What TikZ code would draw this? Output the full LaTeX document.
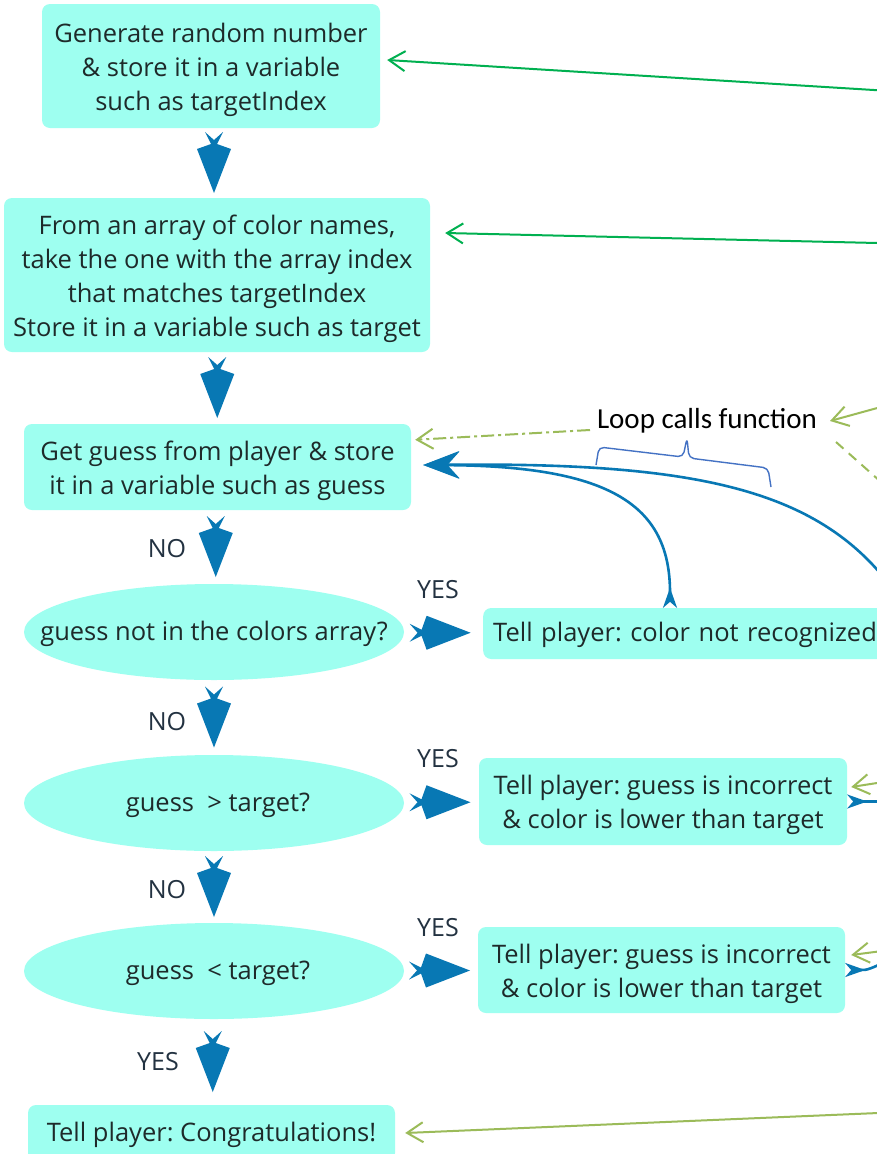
\documentclass[tikz,border=0pt]{standalone}
\usepackage{fontspec}
\setmainfont{Open Sans}
\newfontfamily\calib{Carlito}
\usetikzlibrary{shapes.geometric,arrows.meta,calc,decorations.pathreplacing}
\definecolor{boxfill}{RGB}{158,255,240}
\definecolor{flowblue}{RGB}{8,120,180}
\definecolor{txt}{RGB}{30,42,42}
\definecolor{lbl}{RGB}{35,50,65}
\definecolor{dgreen}{RGB}{0,176,80}
\definecolor{lgreen}{RGB}{155,187,89}
\definecolor{bracec}{RGB}{68,114,196}
\frenchspacing
\newcommand\txtdrop{\rule{0pt}{27pt}}
\newcommand\txtdropsm{\rule{0pt}{23pt}}
\tikzset{
  dnarrow/.pic={\fill[flowblue] (-9,-31) -- (0,-23) -- (9,-31) -- (3,-19) -- (17,-14) -- (0,30) -- (-17,-14) -- (-3,-19) -- cycle;},
  mainfont/.style={font=\fontsize{25.5}{34}\selectfont, text=txt},
  flowbox/.style={mainfont, fill=boxfill, rounded corners=8pt, align=center, inner sep=0pt},
  decision/.style={mainfont, ellipse, fill=boxfill, minimum width=380pt, minimum height=96pt, inner sep=0pt},
  lab/.style={font=\fontsize{25}{30}\selectfont, text=lbl},
  loopline/.style={flowblue, line width=2.6pt},
  fletch/.tip={Stealth[reversed,length=20pt,width=14pt,inset=6pt]},
  bighead/.tip={Stealth[length=36pt,width=27pt,inset=12pt]},
  barb/.tip={Straight Barb[length=16pt,width=20pt,line width=2pt]},
  dgreenline/.style={dgreen, line width=2pt, -{barb}},
  lgreenline/.style={lgreen, line width=2pt, -{barb}},
}
\begin{document}
\begin{tikzpicture}[x=1pt,y=-1pt]
\useasboundingbox (0,0) rectangle (877,1154);
\fill[white] (0,0) rectangle (877,1154);
\clip (0,0) rectangle (877,1154);

% main column
\node[flowbox, minimum width=338pt, minimum height=124pt] (gen) at (211,66)
  {\txtdrop Generate random number\\ \& store it in a variable\\ such as targetIndex};
\node[flowbox, minimum width=426pt, minimum height=154pt] (pick) at (217,275)
  {\txtdrop From an array of color names,\\ take the one with the array index\\ that matches targetIndex\\ Store it in a variable such as target};
\node[flowbox, minimum width=387pt, minimum height=86pt] (get) at (217.5,467)
  {\txtdrop Get guess from player \& store\\ it in a variable such as guess};
\node[decision] (d1) at (214,632) {\txtdropsm\makebox[0pt]{guess not in the colors array?}};
\node[decision] (d2) at (214,803) {\txtdropsm\makebox[0pt]{\hspace{8pt}guess\ \ > target?}};
\node[decision] (d3) at (214,971) {\txtdropsm\makebox[0pt]{\hspace{8pt}guess\ \ < target?}};
\node[flowbox, minimum width=367pt, minimum height=56pt] (win) at (211.5,1133) {\txtdropsm Tell player: Congratulations!};

% result boxes
\node[flowbox, anchor=west, minimum height=51pt, inner xsep=10pt, text width=410pt, align=left] (r1) at (483,633.5) {\txtdropsm Tell player: color not recognized};
\node[flowbox, minimum width=368pt, minimum height=87pt] (r2) at (663,801.5)
  {\txtdrop Tell player: guess is incorrect\\ \& color is lower than target};
\node[flowbox, minimum width=367pt, minimum height=86pt] (r3) at (661.5,970)
  {\txtdrop Tell player: guess is incorrect\\ \& color is lower than target};

% labels
\node[lab] (no1) at (167,549) {NO};
\node[lab] (no2) at (167,722) {NO};
\node[lab] (no3) at (167,890) {NO};
\node[lab] (yes4) at (158,1062) {YES};
\node[lab] (yes1) at (438,590) {YES};
\node[lab] (yes2) at (438,759) {YES};
\node[lab] (yes3) at (438,928) {YES};
\node[font=\calib\fontsize{29}{34}\selectfont, text=black] (loop) at (707,421) {Loop calls function};

% big flow arrows
\pic at ($(gen.south)!0.5!(pick.north)$) {dnarrow};
\pic at ($(pick.south)!0.5!(get.north)$) {dnarrow};
\pic at ($(get.south)!0.5!(d1.north)$) {dnarrow};
\pic at ($(d1.south)!0.5!(d2.north)$) {dnarrow};
\pic at ($(d2.south)!0.5!(d3.north)$) {dnarrow};
\pic at ($(d3.south)!0.5!(win.north)$) {dnarrow};
\pic[rotate=90] at ($(d1.east)!0.5!(r1.west)+(-3,0)$) {dnarrow};
\pic[rotate=90] at ($(d2.east)!0.5!(r2.west)+(-1,0)$) {dnarrow};
\pic[rotate=90] at ($(d3.east)!0.5!(r3.west)+(-1,0)$) {dnarrow};

% loop curves
\coordinate (offB) at (895,592);
\coordinate (offR2) at (900,801.5);
\coordinate (offR3) at (900,955);
\coordinate (tipget) at ($(get.east)+(12,-2)$);
\draw[loopline, -{bighead}] (offB) .. controls (822,490) and (700,462) .. (tipget);
\draw[loopline, {fletch}-{bighead}] ($(r1.north west)+(187,0)$) .. controls (670,505) and (610,466) .. (tipget);
\draw[loopline, {fletch}-] (r2.east) -- (offR2);
\draw[loopline, {fletch}-] (r3.east) .. controls (868,970) .. (offR3);

% brace
\draw[bracec, line width=1.4pt, rounded corners=5pt, line join=round]
  (596,465) -- (599,447) -- (683,457) -- (687,438) -- (689,458) -- (768,468) -- (771,487);

% green arrows
\coordinate (g1) at (890,91);
\coordinate (g2) at (890,243.3);
\coordinate (g3) at (890,404.5);
\coordinate (g4) at (890,490);
\coordinate (g5) at (890,781);
\coordinate (g6) at (890,950);
\coordinate (g7) at (890,1112.5);
\draw[dgreenline] (g1) -- ($(gen.east)+(7,-6)$);
\draw[dgreenline] (g2) -- ($(pick.east)+(15,-42)$);
\draw[lgreenline] (g3) -- (830,421);
\draw[lgreenline, dash pattern=on 13pt off 4pt on 3pt off 4pt] (590,430) -- ($(get.north east)+(4,16)$);
\draw[lgreen, line width=2pt, dash pattern=on 10pt off 7pt] (836,442) -- (g4);
\draw[lgreenline] (g5) -- ($(r2.east)+(4,-14.5)$);
\draw[lgreenline] (g6) -- ($(r3.east)+(6,-15)$);
\draw[lgreenline] (g7) -- ($(win.east)+(10,0)$);
\end{tikzpicture}
\end{document}
